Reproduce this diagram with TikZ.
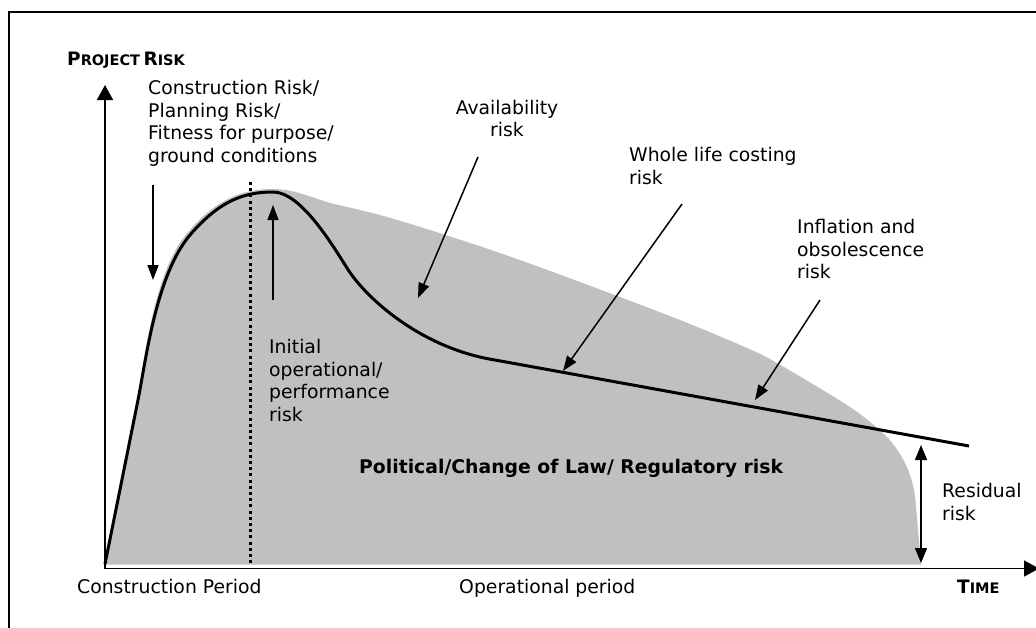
\documentclass[tikz,border=0pt]{standalone}
\usepackage{fontspec}
\setmainfont{DejaVu Sans}
\usepackage{tikz}
\usetikzlibrary{arrows.meta}

\definecolor{riskgrey}{HTML}{C0C0C0}
\newcommand\capword[2]{{\fontsize{18.5}{20}\selectfont #1}{\fontsize{14.5}{16}\selectfont #2}}

\begin{document}
\begin{tikzpicture}[x=1pt,y=-1pt,
	lbl/.style={inner sep=0pt,font=\fontsize{18.8}{22.7}\selectfont,align=left},
	ptr/.style={line width=1.5pt,-{Triangle[length=15pt,width=11pt]}},
	axis/.style={line width=1.7pt,-{Triangle[length=15pt,width=16pt]}},
	riskcurve/.style={line width=3pt,line join=round}]
		\useasboundingbox (0,0) rectangle (1036,627);
		\draw[line width=1.3pt] (9,640) -- (9,12) -- (1040,12);
		\fill[riskgrey] (105,564.5) -- (137,400) .. controls (145,360) and (153,272) .. (188,232) .. controls (218,197) and (245,189) .. (273,189) .. controls (292,189) and (305,195) .. (330,203)
			-- plot[smooth,tension=0.5] coordinates {(330,203) (380,215) (430,230) (500,253) (580,282) (680,320) (747,348) (777,363) (850,407) (887,437) (905,463) (914,490) (918,530) (921,564.5)} -- cycle;
		\draw[line width=3pt,dash pattern=on 3pt off 3.2pt] (250,182) -- (250,563);
		\draw[riskcurve] (105,564) -- (138,400) .. controls (146,360) and (156,275) .. (190,235) .. controls (220,200) and (245,192) .. (273,192)
			.. controls (300,192) and (330,241) .. (347,268) .. controls (365,297) and (420,348) .. (495,360) -- (969,446);
		\coordinate (O) at (105,568.5);
		\coordinate (ytip) at (105,85);
		\coordinate (xtip) at (1039,568.5);
		\draw[axis] (O) -- (ytip);
		\draw[axis] (O) -- (xtip);
		\node[anchor=base west,inner sep=0pt,font=\bfseries] (yname) at (67,65) {\capword{P}{ROJECT} \capword{R}{ISK}};
		\node[anchor=base west,inner sep=0pt,font=\bfseries] (xname) at (957,593) {\capword{T}{IME}};
		\node[lbl,anchor=north west] (constr) at (148,80) {Construction Risk/\\Planning Risk/\\Fitness for purpose/\\ground conditions};
		\node[lbl,anchor=north,align=center] (avail) at (507,99.7) {Availability\\risk};
		\node[lbl,anchor=north west] (whole) at (629,147.4) {Whole life costing\\risk};
		\node[lbl,anchor=north west] (infl) at (797,219) {Inflation and\\obsolescence\\risk};
		\node[lbl,anchor=north west] (initial) at (269,339) {Initial\\operational/\\performance\\risk};
		\node[lbl,anchor=north west] (resid) at (942,483) {Residual\\risk};
		\node[lbl,anchor=base west,font=\fontsize{18.8}{22.7}\selectfont\bfseries] (polit) at (359,473.3) {Political/Change of Law/ Regulatory risk};
		\node[lbl,anchor=base west] (cperiod) at (77,593.3) {Construction Period};
		\node[lbl,anchor=base west] (operiod) at (459,593.3) {Operational period};
		\coordinate (constr-a) at (153,185);
		\coordinate (constr-b) at (153,280);
		\coordinate (initial-a) at (273,300);
		\coordinate (initial-b) at (273,205);
		\coordinate (avail-a) at (478,157);
		\coordinate (avail-b) at (418,298);
		\coordinate (whole-a) at (682,204);
		\coordinate (whole-b) at (563,371);
		\coordinate (infl-a) at (820,300);
		\coordinate (infl-b) at (755,400);
		\coordinate (resid-a) at (921,445);
		\coordinate (resid-b) at (921,563);
		\draw[ptr] (constr-a) -- (constr-b);
		\draw[ptr] (initial-a) -- (initial-b);
		\draw[ptr] (avail-a) -- (avail-b);
		\draw[ptr] (whole-a) -- (whole-b);
		\draw[ptr] (infl-a) -- (infl-b);
		\draw[ptr,{Triangle[length=15pt,width=12pt]}-{Triangle[length=15pt,width=12pt]}] (resid-a) -- (resid-b);
\end{tikzpicture}
\end{document}
